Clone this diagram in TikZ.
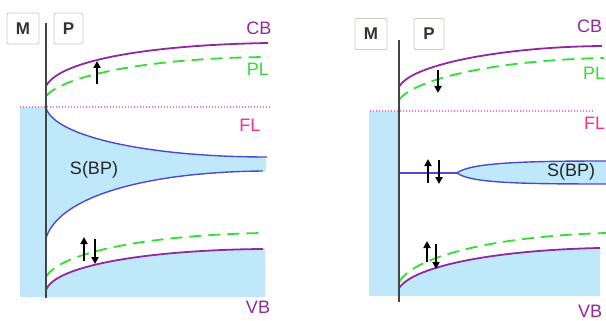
\documentclass[tikz,border=0pt]{standalone}
\usepackage{fontspec}
\setmainfont{Liberation Sans}
\usetikzlibrary{arrows.meta}
\definecolor{fillblue}{HTML}{BFE9FA}
\definecolor{bandblue}{HTML}{4A4ACF}
\definecolor{cbpurple}{HTML}{8E2A9E}
\definecolor{plgreen}{HTML}{33DD33}
\definecolor{flpink}{HTML}{FF2B8F}
\definecolor{fldot}{HTML}{FF70C0}
\definecolor{boxedge}{HTML}{C8D0C0}
\definecolor{wallgrey}{HTML}{444444}
\tikzset{
  bandfill/.style={fill=fillblue, draw=none},
  cbline/.style={draw=cbpurple, line width=1.8pt},
  plline/.style={draw=plgreen, line width=1.8pt, dash pattern=on 12pt off 7pt},
  bpline/.style={draw=bandblue, line width=1.4pt},
  flline/.style={draw=fldot, line width=1.2pt, dash pattern=on 1.2pt off 1.8pt},
  wall/.style={draw=wallgrey, line width=2pt},
  spin/.style={draw=black, line width=2pt, -{Triangle[length=7pt,width=7pt]}},
  lbl/.style={font=\fontsize{18}{20}\selectfont, inner sep=0pt},
  cblbl/.style={lbl, text=cbpurple},
  pllbl/.style={lbl, text=plgreen},
  fllbl/.style={lbl, text=flpink},
  bplbl/.style={lbl, text=black!85},
  mpbox/.style={draw=boxedge, line width=0.9pt, rounded corners=2pt, fill=white,
    font=\fontsize{17}{18}\selectfont\bfseries, text=black!80, inner sep=0pt,
    minimum height=31pt}
}
\begin{document}
\begin{tikzpicture}[x=1pt,y=-1pt]
\useasboundingbox (0,0) rectangle (606,321);
\fill[white] (0,0) rectangle (606,321);

% ================= LEFT PANEL =================
\fill[fillblue] (20,107) rectangle (46,297);
\path[bandfill] (46,108) .. controls (55,137) and (150,157) .. (266,157)
  -- (266,171) .. controls (150,172) and (60,195) .. (46,238) -- cycle;
\path[bandfill] (46,290) .. controls (55,265) and (150,250) .. (265,249)
  -- (265,297) -- (46,297) -- cycle;
\draw[flline] (20,107) -- (272,107);
\draw[cbline] (46,86) .. controls (60,60) and (150,45) .. (268,43);
\draw[plline] (46,96) .. controls (65,75) and (150,58) .. (268,57);
\draw[bpline] (46,108) .. controls (55,137) and (150,157) .. (267,157);
\draw[bpline] (46,238) .. controls (60,195) and (150,172) .. (263,171);
\draw[plline] (46,277) .. controls (60,252) and (150,235) .. (263,233);
\draw[cbline] (46,290) .. controls (55,265) and (150,250) .. (263,249);
\draw[wall] (46,23) -- (46,298);
\coordinate (la1) at (97,84); \coordinate (la2) at (97,61);
\draw[spin] (la1) -- (la2);
\coordinate (lb1) at (84,261); \coordinate (lb2) at (84,237);
\draw[spin] (lb1) -- (lb2);
\coordinate (lc1) at (95,239); \coordinate (lc2) at (95,264);
\draw[spin] (lc1) -- (lc2);
\node[mpbox, minimum width=32pt] (lM) at (23,28.5) {M};
\node[mpbox, minimum width=29pt] (lP) at (68.5,28.5) {P};
\node[cblbl] (lCB) at (259,28) {CB};
\node[pllbl] (lPL) at (258,69) {PL};
\node[fllbl] (lFL) at (250,125) {FL};
\node[bplbl] (lSBP) at (94,170) {S(BP)};
\node[cblbl] (lVB) at (258,307) {VB};

% ================= RIGHT PANEL =================
\fill[fillblue] (369,111) rectangle (399,296);
\path[bandfill] (457,173) .. controls (470,163) and (520,161) .. (606,161)
  -- (606,184) .. controls (520,184) and (470,183) .. (457,173) -- cycle;
\path[bandfill] (399,288) .. controls (415,265) and (500,250) .. (600,248)
  -- (600,296) -- (399,296) -- cycle;
\draw[flline] (370,111) -- (594,111);
\draw[cbline] (399,87) .. controls (410,65) and (500,47) .. (602,46);
\draw[plline] (399,100) .. controls (415,78) and (500,60) .. (604,58);
\draw[bpline] (399,173) -- (457,173);
\draw[bpline] (457,173) .. controls (470,163) and (520,161) .. (606,161);
\draw[bpline] (457,173) .. controls (470,183) and (520,184) .. (606,184);
\draw[plline] (399,282) .. controls (415,255) and (500,236) .. (606,233);
\draw[cbline] (399,288) .. controls (415,265) and (500,250) .. (600,248);
\draw[wall] (399,40) -- (399,302);
\coordinate (ra1) at (438,70); \coordinate (ra2) at (438,93);
\draw[spin] (ra1) -- (ra2);
\coordinate (rb1) at (428,183); \coordinate (rb2) at (428,159);
\draw[spin] (rb1) -- (rb2);
\coordinate (rc1) at (439,160); \coordinate (rc2) at (439,184);
\draw[spin] (rc1) -- (rc2);
\coordinate (rd1) at (427,262); \coordinate (rd2) at (427,241);
\draw[spin] (rd1) -- (rd2);
\coordinate (re1) at (436,244); \coordinate (re2) at (436,269);
\draw[spin] (re1) -- (re2);
\node[mpbox, minimum width=32pt] (rM) at (371,34) {M};
\node[mpbox, minimum width=30pt] (rP) at (429,34) {P};
\node[cblbl, anchor=west] (rCB) at (577,26) {CB};
\node[pllbl, anchor=west] (rPL) at (583,73) {PL};
\node[fllbl, anchor=west] (rFL) at (584,123) {FL};
\node[bplbl] (rSBP) at (571,172) {S(BP)};
\node[cblbl, anchor=west] (rVB) at (578,311) {VB};
\end{tikzpicture}
\end{document}
